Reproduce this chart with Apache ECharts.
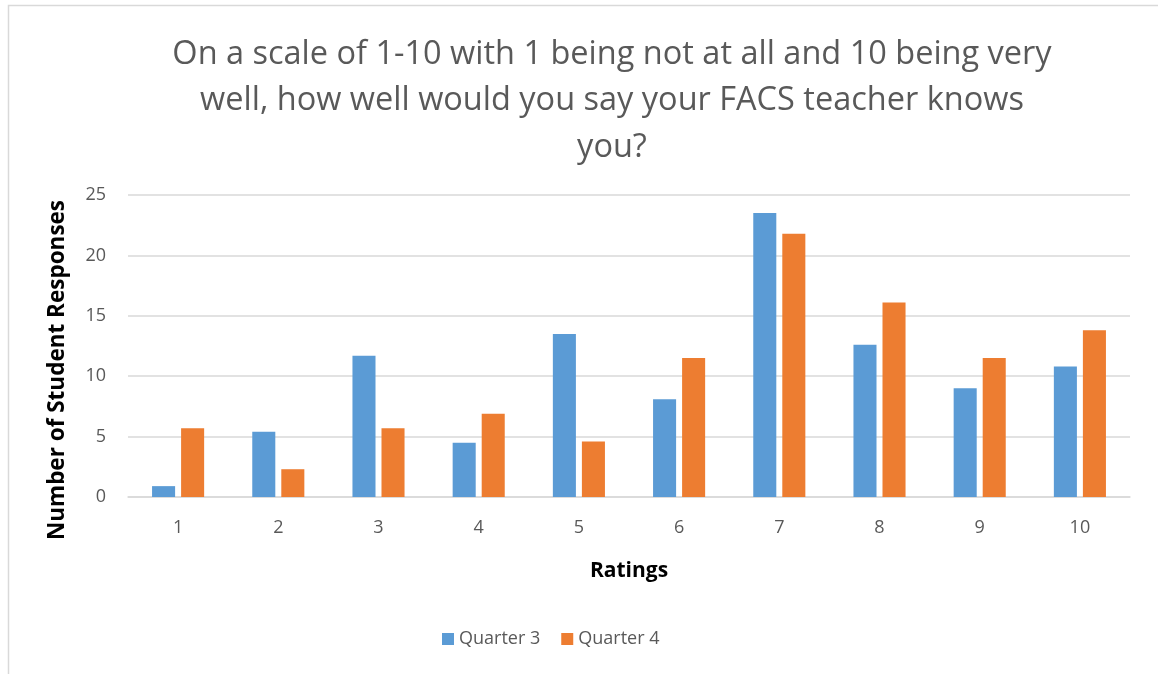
<!DOCTYPE html>
<html>
<head>
<meta charset="utf-8">
<script src="https://cdn.jsdelivr.net/npm/echarts@6/dist/echarts.min.js"></script>
<style>
html,body{margin:0;padding:0;background:#fff;}
#chart{width:1158px;height:674px;}
</style>
</head>
<body>
<div id="chart"></div>
<script>
var ratings = ['1','2','3','4','5','6','7','8','9','10'];
var quarter3 = [0.9, 5.4, 11.7, 4.5, 13.5, 8.1, 23.5, 12.6, 9.0, 10.8];
var quarter4 = [5.7, 2.3, 5.7, 6.9, 4.6, 11.5, 21.8, 16.1, 11.5, 13.8];
var seriesNames = ['Quarter 3','Quarter 4'];
var titleText = 'On a scale of 1-10 with 1 being not at all and 10 being very\nwell, how well would you say your FACS teacher knows\nyou?';
var yName = 'Number of Student Responses';

var myChart = echarts.init(document.getElementById('chart'));
var fontName = '"Open Sans", sans-serif';

var option = {
	backgroundColor: '#fff',
	animation: false,
	graphic: [{
		type: 'rect',
		shape: {x: 8.5, y: 5.5, width: 1300, height: 900},
		style: {fill: 'none', stroke: '#d9d9d9', lineWidth: 1.5},
		silent: true
	}, {
		// y axis title, Excel puts it a bit below the plot middle
		type: 'text',
		x: 58,
		y: 370,
		rotation: Math.PI / 2,
		style: {
			text: yName,
			fontFamily: fontName,
			fontSize: 22.5,
			fontWeight: 'bold',
			fill: '#000',
			textAlign: 'center',
			textVerticalAlign: 'middle'
		},
		silent: true
	}],
	title: {
		text: titleText,
		left: 607,
		top: 26,
		textAlign: 'center',
		textStyle: {
			fontFamily: fontName,
			fontSize: 32.5,
			fontWeight: 'normal',
			color: '#595959',
			lineHeight: 46.5
		}
	},
	legend: {
		data: seriesNames,
		bottom: 21,
		left: 437,
		itemWidth: 12,
		itemHeight: 12,
		itemGap: 21,
		icon: 'rect',
		textStyle: {fontFamily: fontName, fontSize: 18, color: '#595959'}
	},
	grid: {
		left: 128,
		right: 28,
		top: 195,
		bottom: 177,
		containLabel: false
	},
	xAxis: {
		type: 'category',
		data: ratings,
		name: 'Ratings',
		nameLocation: 'middle',
		nameGap: 64,
		nameTextStyle: {fontFamily: fontName, fontSize: 21, fontWeight: 'bold', color: '#000'},
		axisLine: {lineStyle: {color: '#d9d9d9', width: 1.5}},
		axisTick: {show: false},
		axisLabel: {fontFamily: fontName, fontSize: 18, color: '#595959', margin: 22}
	},
	yAxis: {
		type: 'value',
		min: 0,
		max: 25,
		interval: 5,
		axisLine: {show: false},
		axisTick: {show: false},
		axisLabel: {fontFamily: fontName, fontSize: 18, color: '#595959', margin: 22},
		splitLine: {lineStyle: {color: '#d9d9d9', width: 1.5}}
	},
	series: [{
		name: seriesNames[0],
		type: 'bar',
		data: quarter3,
		barWidth: '23%',
		barGap: '26%',
		itemStyle: {color: '#5b9bd5'}
	}, {
		name: seriesNames[1],
		type: 'bar',
		data: quarter4,
		barWidth: '23%',
		barGap: '26%',
		itemStyle: {color: '#ed7d31'}
	}]
};
myChart.setOption(option);
</script>
</body>
</html>
